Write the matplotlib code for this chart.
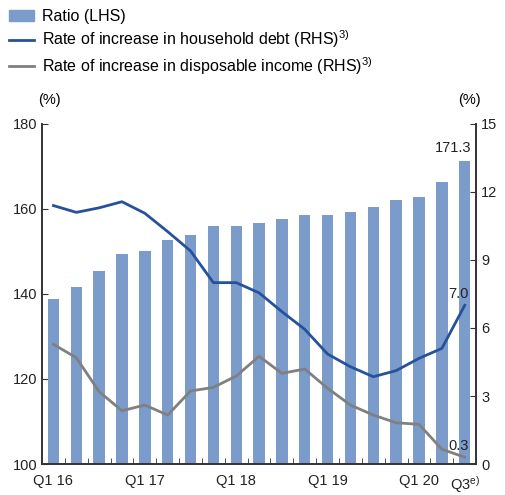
import numpy as np
import matplotlib
matplotlib.use("Agg")
import matplotlib.pyplot as plt
from matplotlib.patches import Patch
from matplotlib.lines import Line2D

plt.rcParams['font.family'] = ['Liberation Sans', 'DejaVu Sans']
plt.rcParams['mathtext.fontset'] = 'custom'
plt.rcParams['mathtext.rm'] = 'Liberation Sans'
plt.rcParams['mathtext.it'] = 'Liberation Sans'

# data, Q1 2016 .. Q3 2020
quarters = ['Q1 16', 'Q2 16', 'Q3 16', 'Q4 16', 'Q1 17', 'Q2 17', 'Q3 17', 'Q4 17',
            'Q1 18', 'Q2 18', 'Q3 18', 'Q4 18', 'Q1 19', 'Q2 19', 'Q3 19', 'Q4 19',
            'Q1 20', 'Q2 20', 'Q3 20']
ratio = [138.9, 141.6, 145.3, 149.4, 150.1, 152.8, 153.8, 156.1, 156.1, 156.7,
         157.7, 158.5, 158.5, 159.3, 160.4, 162.2, 162.8, 166.3, 171.3]
debt = [11.4, 11.1, 11.3, 11.57, 11.06, 10.25, 9.4, 8.0, 8.0, 7.55,
        6.72, 5.94, 4.85, 4.29, 3.85, 4.12, 4.66, 5.1, 7.0]
income = [5.28, 4.69, 3.19, 2.35, 2.6, 2.16, 3.22, 3.38, 3.88, 4.75,
          4.0, 4.19, 3.34, 2.6, 2.16, 1.82, 1.75, 0.65, 0.3]
label_idx = [0, 4, 8, 12, 16, 18]
label_txt = ['Q1 16', 'Q1 17', 'Q1 18', 'Q1 19', 'Q1 20', r'Q3$^{\mathrm{e)}}$']

bar_col = '#7b9bcb'
debt_col = '#25529b'
inc_col = '#808080'
axis_col = '#333333'
fs = 10.5
lfs = 11.5

x = np.arange(len(quarters))

fig = plt.figure(figsize=(5.06, 4.95), dpi=100)
ax = fig.add_axes([0.083, 0.0626, 0.858, 0.687])
ax2 = ax.twinx()

ax.bar(x, ratio, width=0.5, color=bar_col, zorder=2)
ax2.plot(x, debt, color=debt_col, lw=2, zorder=3)
ax2.plot(x, income, color=inc_col, lw=2, zorder=3)

ax.set_xlim(-0.5, len(x) - 0.5)
ax.set_ylim(100, 180)
ax2.set_ylim(0, 15)
ax.set_yticks([100, 120, 140, 160, 180])
ax2.set_yticks([0, 3, 6, 9, 12, 15])

ax.set_xticks([x[i] for i in label_idx])
ax.set_xticklabels(label_txt)
ax.set_xticks(x[:-1] + 0.5, minor=True)
ax.tick_params(axis='x', which='major', length=0, pad=7, labelsize=fs, colors='#222222')
ax.tick_params(axis='x', which='minor', direction='in', length=4, color=axis_col)
ax.tick_params(axis='y', direction='in', length=4, labelsize=fs, color=axis_col, labelcolor='#222222')
ax2.tick_params(axis='y', direction='in', length=4, labelsize=fs, color=axis_col, labelcolor='#222222')

for a in (ax, ax2):
    a.spines['top'].set_visible(False)
    for s in ('left', 'right', 'bottom'):
        a.spines[s].set_color(axis_col)
        a.spines[s].set_linewidth(1.2)

ax.text(-0.01, 1.05, '(%)', transform=ax.transAxes, fontsize=fs, ha='left', va='bottom')
ax.text(1.01, 1.05, '(%)', transform=ax.transAxes, fontsize=fs, ha='right', va='bottom')

ax.annotate('171.3', (x[-1], ratio[-1]), textcoords='offset points', xytext=(5, 4),
            ha='right', va='bottom', fontsize=fs, color='#222222')
ax2.annotate('7.0', (x[-1], debt[-1]), textcoords='offset points', xytext=(3, 3),
             ha='right', va='bottom', fontsize=fs, color='#222222')
ax2.annotate('0.3', (x[-1], income[-1]), textcoords='offset points', xytext=(3, 3),
             ha='right', va='bottom', fontsize=fs, color='#222222')

handles = [Patch(color=bar_col),
           Line2D([], [], color=debt_col, lw=2),
           Line2D([], [], color=inc_col, lw=2)]
labels = ['Ratio (LHS)',
          r'Rate of increase in household debt (RHS)$^{\mathrm{3)}}$',
          r'Rate of increase in disposable income (RHS)$^{\mathrm{3)}}$']
fig.legend(handles, labels, loc='upper left', bbox_to_anchor=(0.005, 0.995), frameon=False,
           fontsize=lfs, handlelength=1.6, handleheight=0.65, handletextpad=0.5,
           labelspacing=0.3, borderaxespad=0)

fig.savefig('out.png', dpi=100)
